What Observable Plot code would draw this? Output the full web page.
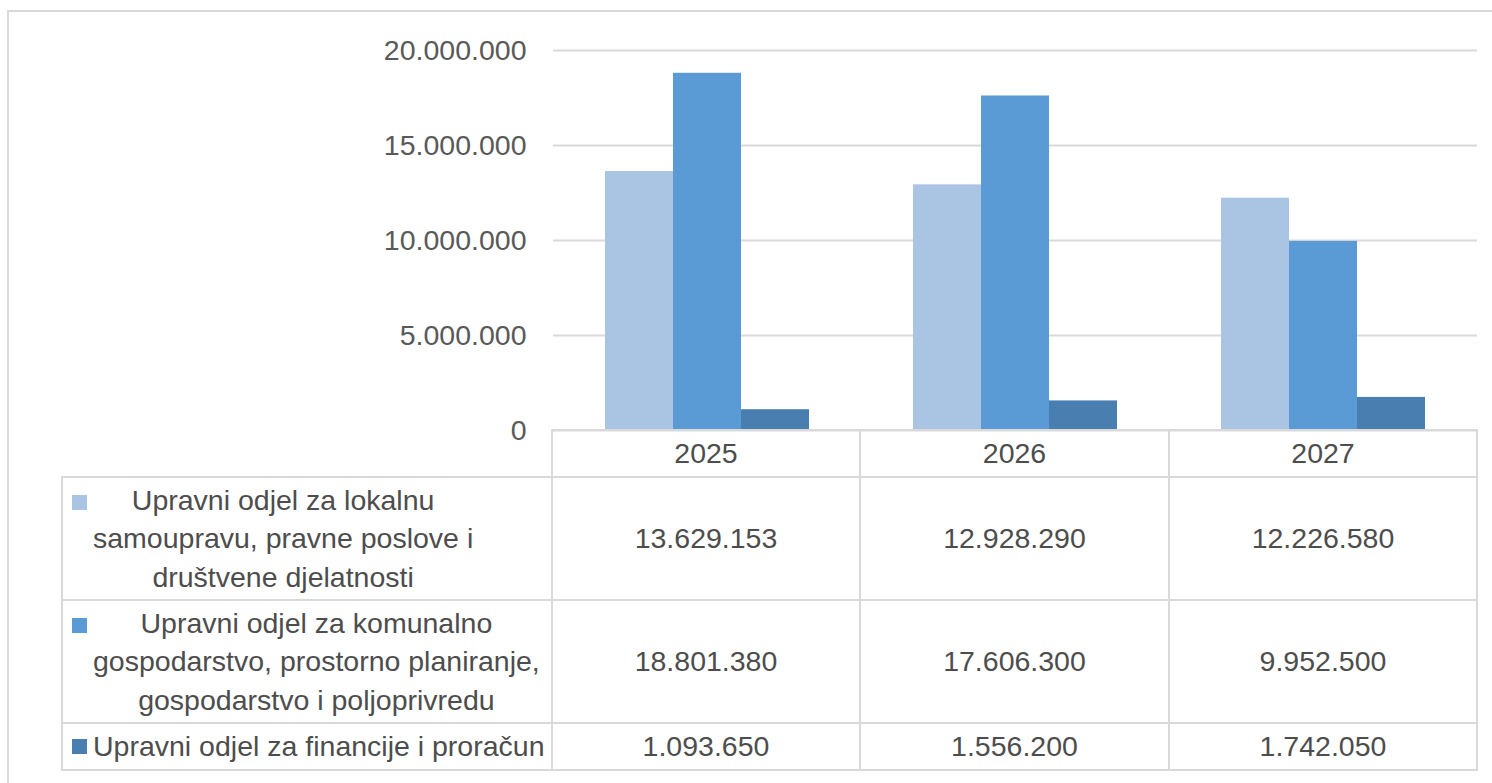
<!DOCTYPE html>
<html>
<head>
<meta charset="utf-8">
<script src="https://cdn.jsdelivr.net/npm/d3@7"></script>
<script src="https://cdn.jsdelivr.net/npm/@observablehq/plot@0.6"></script>
<style>
  html, body { margin: 0; padding: 0; background: #fff; overflow: hidden; width: 1492px; height: 783px; }
  #wrap { position: relative; width: 1492px; height: 783px; font-family: "Liberation Sans", Arial, sans-serif; }
  #frame { position: absolute; left: 7px; top: 10px; width: 1600px; height: 900px; border: 2px solid #d9d9d9; box-sizing: border-box; }
  #chart { position: absolute; left: 0; top: 0; }
  #tbl { position: absolute; left: 61px; top: 429px; border-collapse: collapse; table-layout: fixed; font-size: 28.5px; color: #4d4d4d; }
  #tbl td { border: 2px solid #d9d9d9; padding: 0; text-align: center; vertical-align: middle; white-space: nowrap; }
  #tbl td.blank { border-top: none; border-left: none; }
  #tbl td.lab { text-align: left; }
  .labin { display: flex; align-items: flex-start; padding-left: 9px; }
  .sw { width: 15px; height: 15px; flex: none; margin-right: 6px; }
  .txt { display: inline-block; text-align: center; line-height: 38.5px; }
</style>
</head>
<body>
<div id="wrap">
  <div id="frame"></div>
  <div id="chart"></div>
  <table id="tbl"></table>
</div>
<script>
// ---- data ----
const years = ["2025", "2026", "2027"];
const seriesLines = [
  ["Upravni odjel za lokalnu", "samoupravu, pravne poslove i", "društvene djelatnosti"],
  ["Upravni odjel za komunalno", "gospodarstvo, prostorno planiranje,", "gospodarstvo i poljoprivredu"],
  ["Upravni odjel za financije i proračun"]
];
const series = seriesLines.map(l => l.join(" "));
const lokalnaValues = [13629153, 12928290, 12226580];
const komunalnoValues = [18801380, 17606300, 9952500];
const financijeValues = [1093650, 1556200, 1742050];
const yTicks = [0, 5000000, 10000000, 15000000, 20000000];
const colors = ["#aac4e4", "#5b9bd5", "#497eb1"];

const values = [lokalnaValues, komunalnoValues, financijeValues];
const locale = d3.formatLocale({decimal: ",", thousands: ".", grouping: [3], currency: ["", ""]});
const fmt = locale.format(",");

const data = years.flatMap((yr, i) => series.map((s, j) => ({year: yr, series: s, value: values[j][i]})));

const chart = Plot.plot({
  width: 1492,
  height: 440,
  marginLeft: 552,
  marginRight: 15,
  marginTop: 50,
  marginBottom: 10,
  style: {fontSize: "28.5px", fontFamily: "Liberation Sans, Arial, sans-serif", color: "#595959", background: "transparent", overflow: "visible"},
  fx: {domain: years, padding: 0, axis: null, label: null},
  x: {domain: series, paddingInner: 0, paddingOuter: 0.75, axis: null, label: null},
  y: {domain: [0, 20000000], ticks: yTicks, tickFormat: fmt, tickSize: 0, tickPadding: 27, label: null},
  color: {domain: series, range: colors},
  marks: [
    Plot.ruleY(yTicks, {stroke: "#d9d9d9", strokeWidth: 2}),
    Plot.barY(data, {fx: "year", x: "series", y: "value", fill: "series"})
  ]
});
document.getElementById("chart").appendChild(chart);

// ---- data table below the chart ----
const tbl = document.getElementById("tbl");
const colW = [490, 308, 309, 308];
const cg = document.createElement("colgroup");
colW.forEach(w => { const c = document.createElement("col"); c.style.width = w + "px"; cg.appendChild(c); });
tbl.appendChild(cg);
tbl.style.width = d3.sum(colW) + "px";

const head = document.createElement("tr");
head.style.height = "47px";
const blank = document.createElement("td"); blank.className = "blank"; head.appendChild(blank);
years.forEach(y => { const td = document.createElement("td"); td.textContent = y; head.appendChild(td); });
tbl.appendChild(head);

series.forEach((s, j) => {
  const tr = document.createElement("tr");
  tr.style.height = (seriesLines[j].length > 1 ? 123 : 47) + "px";
  const lab = document.createElement("td"); lab.className = "lab";
  const inner = document.createElement("div"); inner.className = "labin";
  if (seriesLines[j].length === 1) inner.style.alignItems = "center";
  const sw = document.createElement("div"); sw.className = "sw"; sw.style.background = colors[j];
  if (seriesLines[j].length > 1) sw.style.marginTop = "14px";
  const txt = document.createElement("div"); txt.className = "txt";
  txt.innerHTML = seriesLines[j].map(l => l.replace(/&/g, "&amp;")).join("<br>");
  inner.appendChild(sw); inner.appendChild(txt); lab.appendChild(inner); tr.appendChild(lab);
  years.forEach((y, i) => { const td = document.createElement("td"); td.textContent = fmt(values[j][i]); tr.appendChild(td); });
  tbl.appendChild(tr);
});
</script>
</body>
</html>
